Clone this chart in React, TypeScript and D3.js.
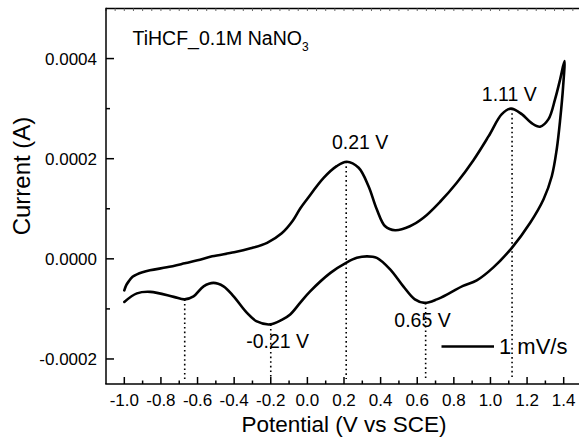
import React from "react";
import * as d3 from "d3";

// ---- data ----
const scanLabel = "1 mV/s";
const titleMain = "TiHCF_0.1M NaNO";
const titleSub = "3";

// anodic (forward) sweep: potential (V) / current (A)
const fwdPotential = [
  -1.0, -0.99, -0.976, -0.955, -0.931, -0.86, -0.768, -0.67, -0.6, -0.52, -0.4, -0.31, -0.22,
  -0.14, -0.08, -0.04, 0.0, 0.09, 0.16, 0.215, 0.28, 0.334, 0.379, 0.425, 0.479, 0.56, 0.634,
  0.725, 0.816, 0.907, 0.99, 1.062, 1.112, 1.171, 1.225, 1.271, 1.317, 1.353, 1.381, 1.404,
];
const fwdCurrent = [
  -6.3e-5, -5.3e-5, -4.5e-5, -3.6e-5, -3.1e-5, -2.3e-5, -1.7e-5, -0.9e-5, -0.3e-5, 0.5e-5, 1.3e-5,
  2.1e-5, 3.2e-5, 5.1e-5, 7.6e-5, 1.0e-4, 1.2e-4, 1.62e-4, 1.85e-4, 1.94e-4, 1.82e-4, 1.45e-4,
  0.99e-4, 0.65e-4, 0.57e-4, 0.65e-4, 0.82e-4, 1.14e-4, 1.52e-4, 1.97e-4, 2.45e-4, 2.89e-4,
  3.0e-4, 2.89e-4, 2.71e-4, 2.64e-4, 2.79e-4, 3.19e-4, 3.59e-4, 3.95e-4,
];

// cathodic (reverse) sweep
const revPotential = [
  1.397, 1.381, 1.362, 1.335, 1.29, 1.217, 1.117, 1.016, 0.925, 0.85, 0.779, 0.707, 0.641, 0.587,
  0.524, 0.452, 0.379, 0.325, 0.27, 0.216, 0.126, 0.015, -0.04, -0.094, -0.14, -0.203, -0.276,
  -0.33, -0.403, -0.458, -0.513, -0.567, -0.622, -0.671, -0.73, -0.858, -0.931, -1.0,
];
const revCurrent = [
  3.45e-4, 2.79e-4, 2.19e-4, 1.65e-4, 1.19e-4, 0.72e-4, 0.22e-4, -0.17e-4, -0.43e-4, -0.54e-4,
  -0.68e-4, -0.81e-4, -0.88e-4, -0.81e-4, -0.55e-4, -0.21e-4, 0.02e-4, 0.05e-4, 0.02e-4, -0.07e-4,
  -0.28e-4, -0.65e-4, -0.88e-4, -1.11e-4, -1.22e-4, -1.31e-4, -1.25e-4, -1.08e-4, -0.75e-4,
  -0.55e-4, -0.48e-4, -0.55e-4, -0.75e-4, -0.81e-4, -0.76e-4, -0.66e-4, -0.69e-4, -0.86e-4,
];

// peak markers (dotted drop lines)
const peakPotential = [-0.67, -0.2, 0.212, 0.646, 1.118];
const peakCurrent = [-8.1e-5, -1.31e-4, 1.94e-4, -8.8e-5, 3.0e-4];

// peak annotation texts and their anchors (data units)
const peakLabels = ["-0.21 V", "0.21 V", "0.65 V", "1.11 V"];
const peakLabelPotential = [-0.334, 0.134, 0.475, 0.953];
const peakLabelCurrent = [-1.78e-4, 2.19e-4, -1.36e-4, 3.15e-4];

const xTickValues = [-1.0, -0.8, -0.6, -0.4, -0.2, 0.0, 0.2, 0.4, 0.6, 0.8, 1.0, 1.2, 1.4];
const xTickLabels = ["-1.0", "-0.8", "-0.6", "-0.4", "-0.2", "0.0", "0.2", "0.4", "0.6", "0.8", "1.0", "1.2", "1.4"];
const xMinorValues = [-0.9, -0.7, -0.5, -0.3, -0.1, 0.1, 0.3, 0.5, 0.7, 0.9, 1.1, 1.3];
const yTickValues = [-0.0002, 0.0, 0.0002, 0.0004];
const yTickLabels = ["-0.0002", "0.0000", "0.0002", "0.0004"];
const yMinorValues = [-0.0001, 0.0001, 0.0003];

const xDomain = [-1.1, 1.5];
const yDomain = [-0.00025, 0.0005];

// ---- layout ----
const W = 579;
const H = 445;
const left = 106;
const right = 582;
const top = 8.5;
const bottom = 384;
const FONT = "'Liberation Sans', Arial, Helvetica, sans-serif";

export default function App() {
  const x = d3.scaleLinear().domain(xDomain).range([left, right]);
  const y = d3.scaleLinear().domain(yDomain).range([bottom, top]);

  const pts: [number, number][] = [
    ...fwdPotential.map((v, i) => [v, fwdCurrent[i]] as [number, number]),
    ...revPotential.map((v, i) => [v, revCurrent[i]] as [number, number]),
  ];
  const line = d3
    .line<[number, number]>()
    .x((d) => x(d[0]))
    .y((d) => y(d[1]))
    .curve(d3.curveCatmullRom.alpha(0.5));

  const topTicks = d3.range(-1.1, 1.5001, 0.05);

  return (
    <svg
      width={W}
      height={H}
      style={{ position: "absolute", left: 0, top: 0, background: "#fff" }}
      fontFamily={FONT}
    >
      <rect x={0} y={0} width={W} height={H} fill="#fff" />

      {/* top axis with small ticks */}
      <line x1={left} x2={W} y1={top} y2={top} stroke="#000" strokeWidth={1.5} />
      {topTicks.map((v, i) => (
        <line key={"tt" + i} x1={x(v)} x2={x(v)} y1={top} y2={top + 2.5} stroke="#666" strokeWidth={1} />
      ))}

      {/* left axis */}
      <line x1={left} x2={left} y1={top - 0.75} y2={bottom} stroke="#000" strokeWidth={1.5} />
      {yTickValues.map((v, i) => (
        <g key={"yt" + i}>
          <line x1={left} x2={left + 8} y1={y(v)} y2={y(v)} stroke="#000" strokeWidth={1.5} />
          <text x={97} y={y(v)} dy="0.35em" textAnchor="end" fontSize={17} fill="#000">
            {yTickLabels[i]}
          </text>
        </g>
      ))}
      {yMinorValues.map((v, i) => (
        <line key={"ym" + i} x1={left} x2={left + 4} y1={y(v)} y2={y(v)} stroke="#000" strokeWidth={1.5} />
      ))}

      {/* bottom axis */}
      <line x1={left - 0.75} x2={W} y1={bottom} y2={bottom} stroke="#000" strokeWidth={1.5} />
      {xTickValues.map((v, i) => (
        <g key={"xt" + i}>
          <line x1={x(v)} x2={x(v)} y1={bottom} y2={bottom - 7} stroke="#000" strokeWidth={1.5} />
          <text x={x(v)} y={406} textAnchor="middle" fontSize={17} fill="#000">
            {xTickLabels[i]}
          </text>
        </g>
      ))}
      {xMinorValues.map((v, i) => (
        <line key={"xm" + i} x1={x(v)} x2={x(v)} y1={bottom} y2={bottom - 3.5} stroke="#000" strokeWidth={1.5} />
      ))}

      {/* dotted drop lines */}
      {peakPotential.map((v, i) => (
        <line
          key={"pk" + i}
          x1={x(v)}
          x2={x(v)}
          y1={y(peakCurrent[i])}
          y2={bottom - 5}
          stroke="#000"
          strokeWidth={1.6}
          strokeDasharray="1.6 3"
        />
      ))}

      {/* CV curve */}
      <path d={line(pts) || ""} fill="none" stroke="#000" strokeWidth={2.6} strokeLinejoin="round" strokeLinecap="round" />

      {/* peak labels */}
      {peakLabels.map((t, i) => (
        <text key={"pl" + i} x={x(peakLabelPotential[i])} y={y(peakLabelCurrent[i])} fontSize={19.5} fill="#000">
          {t}
        </text>
      ))}

      {/* title */}
      <text x={132.5} y={45} fontSize={19.5} fill="#000">
        {titleMain}
        <tspan fontSize={12} dy={6}>
          {titleSub}
        </tspan>
      </text>

      {/* legend */}
      <line x1={441.5} x2={494} y1={346.5} y2={346.5} stroke="#000" strokeWidth={2.6} />
      <text x={499} y={353.5} fontSize={22} fill="#000">
        {scanLabel}
      </text>

      {/* axis titles */}
      <text x={344} y={432} textAnchor="middle" fontSize={22.5} fill="#000">
        Potential (V vs SCE)
      </text>
      <text transform="translate(30,176) rotate(-90)" textAnchor="middle" fontSize={24} fill="#000">
        Current (A)
      </text>
    </svg>
  );
}
